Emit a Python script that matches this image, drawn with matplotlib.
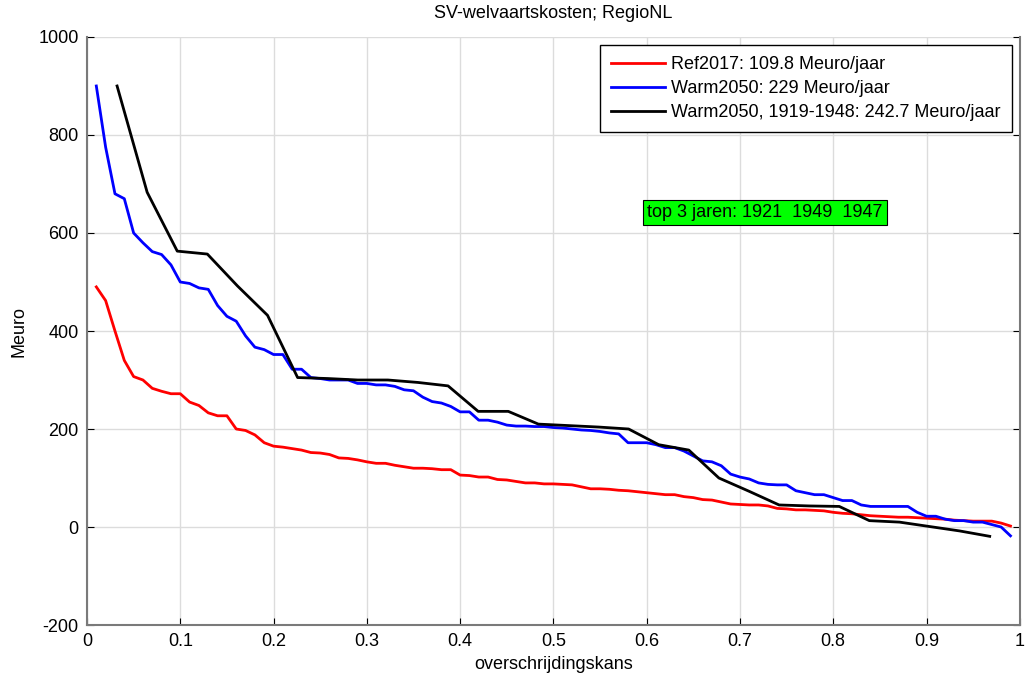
import numpy as np
import matplotlib
matplotlib.use('Agg')
import matplotlib.pyplot as plt

plt.rcParams['font.family'] = ['Liberation Sans', 'DejaVu Sans']
plt.rcParams['axes.unicode_minus'] = False

# overschrijdingskans for the 99-year series and the 30-year series
x_full = [round(0.01 * i, 2) for i in range(1, 100)]
x_short = [i / 31 for i in range(1, 31)]

ref2017 = [490, 462, 400, 340, 307, 300, 283, 277, 272, 272,
           255, 248, 233, 227, 227, 200, 197, 188, 172, 165,
           163, 160, 157, 152, 151, 148, 141, 140, 137, 133,
           130, 130, 126, 123, 120, 120, 119, 117, 117, 106,
           105, 102, 102, 97, 96, 93, 90, 90, 88, 88,
           87, 86, 82, 78, 78, 77, 75, 74, 72, 70,
           68, 66, 66, 62, 60, 56, 55, 51, 47, 46,
           45, 45, 43, 38, 37, 35, 35, 34, 33, 30,
           28, 27, 25, 23, 22, 21, 20, 20, 19, 18,
           17, 16, 14, 13, 12, 12, 12, 8, 2]

warm2050 = [900, 775, 680, 670, 600, 580, 562, 556, 535, 500,
            497, 488, 485, 452, 430, 420, 390, 367, 362, 352,
            352, 322, 322, 305, 303, 300, 300, 300, 293, 293,
            290, 290, 287, 280, 278, 265, 256, 253, 246, 235,
            235, 218, 218, 214, 208, 206, 206, 205, 205, 203,
            202, 200, 198, 197, 195, 192, 190, 172, 172, 172,
            168, 162, 162, 155, 145, 135, 133, 125, 108, 102,
            98, 90, 87, 86, 86, 74, 70, 66, 66, 60,
            54, 54, 45, 42, 42, 42, 42, 42, 30, 22,
            22, 16, 13, 13, 10, 10, 5, 0, -18]

warm2050_hist = [900, 683, 563, 557, 492, 432, 305, 303, 300, 300,
                 295, 288, 236, 236, 210, 207, 204, 200, 168, 157,
                 100, 73, 45, 43, 42, 13, 10, 1, -8, -19]

labels = ['Ref2017: 109.8 Meuro/jaar',
          'Warm2050: 229 Meuro/jaar',
          'Warm2050, 1919-1948: 242.7 Meuro/jaar']

FS = 13

fig = plt.figure(figsize=(10.27, 6.81), dpi=100)
ax = fig.add_axes([0.0847, 0.0822, 0.9083, 0.8635])

ax.plot(x_full, ref2017, color='red', linewidth=2, label=labels[0])
ax.plot(x_full, warm2050, color='blue', linewidth=2, label=labels[1])
ax.plot(x_short, warm2050_hist, color='black', linewidth=2, label=labels[2])

ax.set_xlim(0, 1)
ax.set_ylim(-200, 1000)
ax.set_xticks(np.arange(0, 1.01, 0.1))
ax.set_xticklabels(['0', '0.1', '0.2', '0.3', '0.4', '0.5', '0.6', '0.7', '0.8', '0.9', '1'])
ax.set_yticks(range(-200, 1001, 200))
ax.grid(True, color='#dcdcdc', linewidth=1)
ax.set_axisbelow(True)
ax.tick_params(direction='in', length=5, labelsize=FS, colors='black',
               right=True, top=False, pad=6)
for side in ['left', 'right', 'bottom']:
    ax.spines[side].set_color('#7a7a7a')
    ax.spines[side].set_linewidth(1.5)
ax.spines['top'].set_visible(False)

ax.set_xlabel('overschrijdingskans', fontsize=FS, labelpad=4)
ax.set_ylabel('Meuro', fontsize=FS, labelpad=8)
ax.set_title('SV-welvaartskosten; RegioNL', fontsize=FS, pad=14)

leg = ax.legend(loc='upper right', fontsize=FS, fancybox=False, framealpha=1,
                edgecolor='black', handlelength=3.0, handletextpad=0.35,
                borderaxespad=0.45, labelspacing=0.4, borderpad=0.6)
leg.get_frame().set_linewidth(1)

ax.text(0.727, 641, 'top 3 jaren: 1921  1949  1947', fontsize=FS,
        ha='center', va='center',
        bbox=dict(boxstyle='square,pad=0.22', facecolor='#00ff00', edgecolor='black', linewidth=0.8))

fig.savefig('out.png', dpi=100)
